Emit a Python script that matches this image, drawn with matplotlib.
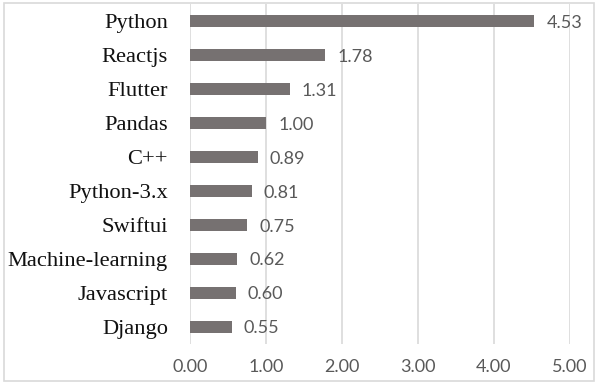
import matplotlib.pyplot as plt
from matplotlib.patches import Rectangle

# tags and their values, top to bottom
tags = ["Python", "Reactjs", "Flutter", "Pandas", "C++", "Python-3.x",
        "Swiftui", "Machine-learning", "Javascript", "Django"]
values = [4.53, 1.78, 1.31, 1.00, 0.89, 0.81, 0.75, 0.62, 0.60, 0.55]
xticks = [0, 1, 2, 3, 4, 5]

BAR_COLOR = "#767171"
GRID_COLOR = "#d9d9d9"
TEXT_GRAY = "#595959"

fig = plt.figure(figsize=(5.95, 3.82), dpi=100)
ax = fig.add_axes([190 / 595, 1 - 343.6 / 382, 380 / 595, 339.6 / 382])

pos = list(range(len(tags)))
ax.barh(pos, values, height=0.35, color=BAR_COLOR, zorder=3)
ax.set_ylim(len(tags) - 0.5, -0.5)
ax.set_xlim(0, 5)

# text baselines sit a little below the bar centre
for y, v in zip(pos, values):
    ax.text(v + 0.16, y + 0.2, f"{v:.2f}", ha="left", va="baseline",
            fontsize=13, family="Lato", color=TEXT_GRAY)

for y, name in zip(pos, tags):
    ax.text(-0.29, y + 0.21, name, ha="right", va="baseline", fontsize=16.2,
            family="Liberation Serif", color="#111111")

ax.set_yticks([])
ax.set_xticks(xticks)
ax.set_xticklabels([f"{t:.2f}" for t in xticks], family="Lato",
                   fontsize=13, color=TEXT_GRAY)
ax.tick_params(axis="x", length=0, pad=11)

ax.grid(axis="x", color=GRID_COLOR, linewidth=1.2, zorder=0)
for s in ax.spines.values():
    s.set_visible(False)

# outer chart border
fig.patches.append(Rectangle((4 / 595, 1 / 382), 590 / 595, 378 / 382,
                             transform=fig.transFigure, fill=False,
                             edgecolor=GRID_COLOR, linewidth=1.2))

fig.savefig("out.png", dpi=100)
